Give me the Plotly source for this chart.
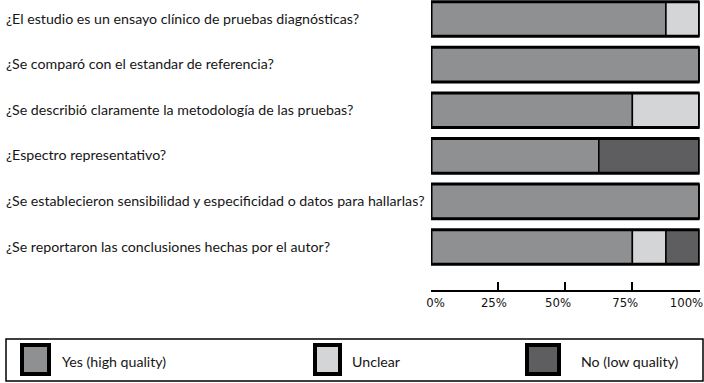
import plotly.graph_objects as go

questions = [
    "¿El estudio es un ensayo clínico de pruebas diagnósticas?",
    "¿Se comparó con el estandar de referencia?",
    "¿Se describió claramente la metodología de las pruebas?",
    "¿Espectro representativo?",
    "¿Se establecieron sensibilidad y especificidad o datos para hallarlas?",
    "¿Se reportaron las conclusiones hechas por el autor?",
]
yes_pct = [87.5, 100, 75, 62.5, 100, 75]
unclear_pct = [12.5, 0, 25, 0, 0, 12.5]
no_pct = [0, 0, 0, 37.5, 0, 12.5]
series_names = ["Yes (high quality)", "Unclear", "No (low quality)"]
tick_vals = [0, 25, 50, 75, 100]
tick_labels = ["0%", "25%", "50%", "75%", "100%"]

colors = ["#8f9092", "#d4d5d7", "#5e5e60"]
W, H = 704, 383
px = lambda x: x / W
py = lambda y: 1 - y / H

# label alignment padding (leading en spaces) to mimic the reference's label placement
EN = "\u2002"
pad_lead = [6, 3, 2, 2, 0]
tick_text = [EN * a + t for t, a in zip(tick_labels, pad_lead)]

idx = list(range(len(questions)))
base_unclear = [a for a in yes_pct]
base_no = [a + b for a, b in zip(yes_pct, unclear_pct)]
totals = [a + b + c for a, b, c in zip(yes_pct, unclear_pct, no_pct)]

fig = go.Figure()
for vals, base, col, name in [
    (yes_pct, [0] * len(idx), colors[0], series_names[0]),
    (unclear_pct, base_unclear, colors[1], series_names[1]),
    (no_pct, base_no, colors[2], series_names[2]),
]:
    fig.add_trace(go.Bar(
        y=idx, x=vals, base=base, orientation="h", name=name,
        marker=dict(color=col, line=dict(color="black", width=1.5)),
        width=0.76, showlegend=False, hoverinfo="skip",
    ))
# outer outline of each bar
fig.add_trace(go.Bar(
    y=idx, x=totals, base=[0] * len(idx), orientation="h",
    marker=dict(color="rgba(0,0,0,0)", line=dict(color="black", width=3)),
    width=0.76, showlegend=False, hoverinfo="skip",
))

text_font = dict(family="Lato, Open Sans, sans-serif", size=14.2, color="#161616")
annotations = []
for i, q in enumerate(questions):
    annotations.append(dict(
        x=px(4), xref="paper", y=i, yref="y", text=q, showarrow=False,
        xanchor="left", yanchor="middle", yshift=1, font=text_font,
    ))

# legend (manual)
shapes = [dict(type="rect", xref="paper", yref="paper",
               x0=px(6), x1=px(703), y0=py(381), y1=py(339),
               line=dict(color="black", width=1.5), fillcolor="white", layer="below")]
leg_sw = [(20, 51), (313, 342), (525, 561)]
leg_tx = [60, 350, 579]
for (x0, x1), tx, col, name in zip(leg_sw, leg_tx, colors, series_names):
    shapes.append(dict(type="rect", xref="paper", yref="paper",
                       x0=px(x0 + 2), x1=px(x1 - 2), y0=py(374), y1=py(345),
                       line=dict(color="black", width=4), fillcolor=col))
    annotations.append(dict(
        x=px(tx), xref="paper", y=py(361), yref="paper", text=name, showarrow=False,
        xanchor="left", yanchor="middle", font=text_font,
    ))

fig.update_layout(
    template="none",
    width=W, height=H, margin=dict(l=0, r=0, t=0, b=0, autoexpand=False),
    paper_bgcolor="white", plot_bgcolor="white",
    barmode="overlay",
    xaxis=dict(domain=[px(431), px(699.5)], range=[0, 100], anchor="free", position=py(290.5),
               tickvals=tick_vals, ticktext=tick_text, ticks="inside", ticklen=8,
               tickwidth=1.5, tickcolor="black", showline=True, linecolor="black", linewidth=1.5,
               showgrid=False, zeroline=False, automargin=False, ticklabeloverflow="allow",
               ticklabelshift=-13,
               tickfont=dict(family="Liberation Sans Narrow, DejaVu Sans Condensed, Liberation Sans",
                             size=13, color="#111")),
    yaxis=dict(domain=[py(270), 1], range=[5.504, -0.417], showticklabels=False,
               showgrid=False, zeroline=False, showline=False, automargin=False),
    shapes=shapes, annotations=annotations,
)
fig.write_html("out.html")
